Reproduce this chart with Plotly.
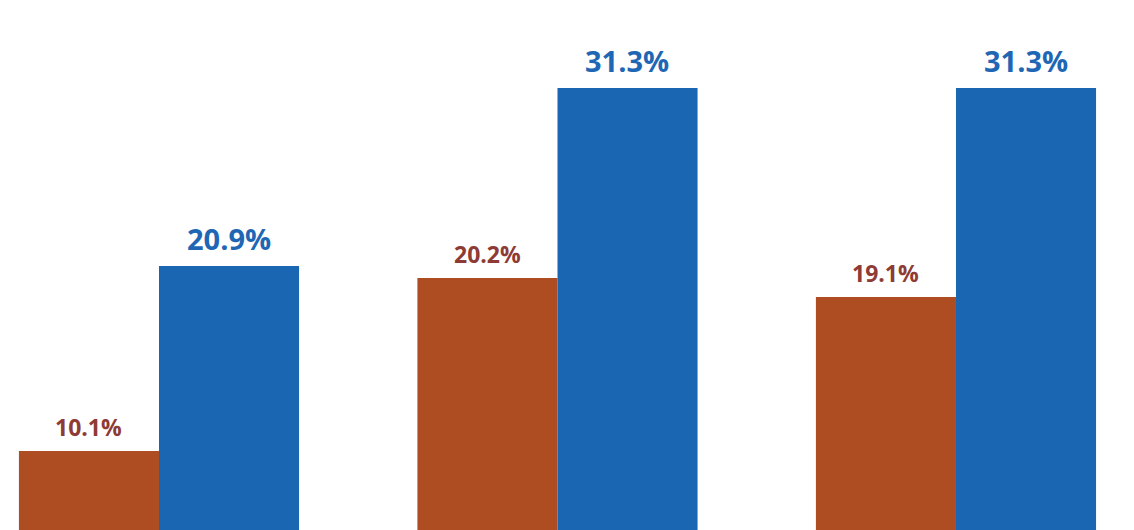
import plotly.graph_objects as go

categories = [0, 1, 2]
series_a = [10.1, 20.2, 19.1]
series_b = [20.9, 31.3, 31.3]
labels_a = ["10.1%", "20.2%", "19.1%"]
labels_b = ["20.9%", "31.3%", "31.3%"]

c_a = "#AE4D21"
c_b = "#1B66B2"
t_a = "#8E3B36"
t_b = "#1F67B5"

fig = go.Figure()
fig.add_trace(go.Bar(x=categories, y=series_a, marker=dict(color=c_a, line=dict(width=0)), name="A"))
fig.add_trace(go.Bar(x=categories, y=series_b, marker=dict(color=c_b, line=dict(width=0)), name="B"))

for xi, v, lab in zip(categories, series_a, labels_a):
    fig.add_annotation(x=xi, y=v, xshift=-70, yshift=6, text=lab, showarrow=False,
                       yanchor="bottom", font=dict(family="Open Sans", size=23, color=t_a, weight="bold"))
for xi, v, lab in zip(categories, series_b, labels_b):
    fig.add_annotation(x=xi, y=v, xshift=70, yshift=6, text=lab, showarrow=False,
                       yanchor="bottom", font=dict(family="Open Sans", size=29, color=t_b, weight="bold"))

fig.update_layout(
    width=1134, height=530,
    margin=dict(l=0, r=0, t=0, b=0),
    paper_bgcolor="white", plot_bgcolor="white",
    barmode="group", bargap=0.297, bargroupgap=0,
    showlegend=False,
    xaxis=dict(range=[-0.3789, 2.4668], visible=False),
    yaxis=dict(range=[5.018, 35.976], visible=False),
)
fig.write_html("out.html")
